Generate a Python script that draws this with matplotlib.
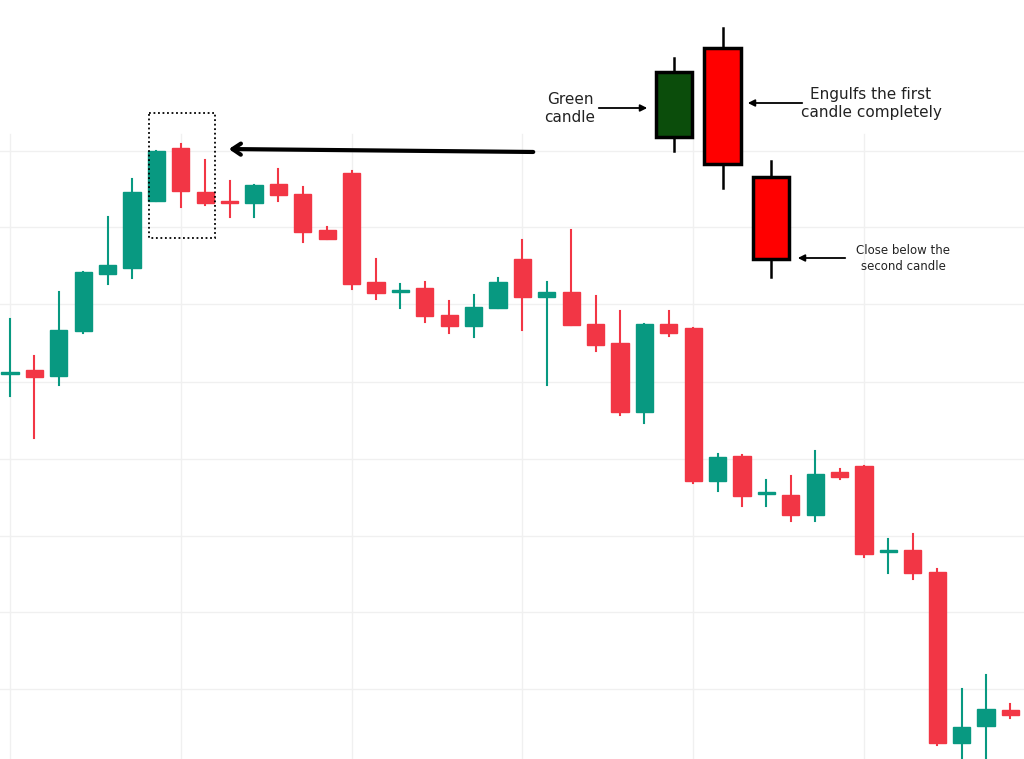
import matplotlib
matplotlib.use("Agg")
import matplotlib.pyplot as plt
from matplotlib.patches import Rectangle, FancyArrowPatch

# price values (arbitrary units)
opens  = [385,389,383,428,485,491,558,611,567,558,556,575,565,529,586,477,467,471,444,433,451,500,462,467,435,416,347,435,431,278,303,265,264,244,287,293,207,209,187,16,33,49,47]
closes = [387,382,429,487,494,567,608,568,556,556,574,564,527,520,475,466,469,443,433,452,477,462,467,434,414,347,435,426,278,302,263,267,244,285,282,205,209,186,16,32,50,44,-10]
highs  = [440,403,467,487,542,580,608,615,599,578,574,590,572,532,588,500,475,477,458,464,481,519,477,529,463,448,435,448,431,305,304,279,283,308,290,293,220,225,190,70,84,55,50]
lows   = [363,321,374,426,475,481,558,552,554,542,542,558,517,520,470,460,451,437,426,422,451,429,374,434,408,344,336,423,276,268,253,253,238,238,280,202,186,180,14,-10,-10,41,-10]

GREEN = "#089981"
RED = "#f23645"

fig = plt.figure(figsize=(10.24, 7.59), dpi=100)
ax = fig.add_axes([0, 0, 1, 1])
ax.set_xlim(-10/24.4, (1024-10)/24.4)
ax.set_ylim(0, 759)
ax.axis("off")

top = 625
for y in [608, 532, 455, 377, 300, 223, 147, 70]:
    ax.plot([-1, 43], [y, y], color="#f0f0f0", lw=1, zorder=0)
for x in [0, 7, 14, 21, 28, 35]:
    ax.plot([x, x], [0, top], color="#f0f0f0", lw=1, zorder=0)

w = 0.7
for i, (o, c, h, l) in enumerate(zip(opens, closes, highs, lows)):
    col = GREEN if c >= o else RED
    ax.plot([i, i], [l, h], color=col, lw=1.5, zorder=2)
    b = max(abs(c - o), 1.5)
    ax.add_patch(Rectangle((i - w/2, min(o, c)), w, b, facecolor=col, edgecolor=col, zorder=3))

# overlay in pixel coordinates
ov = fig.add_axes([0, 0, 1, 1])
ov.set_xlim(0, 1024); ov.set_ylim(759, 0); ov.axis("off")

ov.add_patch(Rectangle((149, 113), 66, 125, fill=False, ls=(0, (1, 1.5)), lw=1.3, ec="black"))
ov.annotate("", xy=(226, 149), xytext=(536, 152),
            arrowprops=dict(arrowstyle="->,head_length=0.6,head_width=0.4", lw=3, color="black"))

def cand(x0, x1, b0, b1, w0, w1, fc):
    xm = (x0 + x1) / 2
    ov.plot([xm, xm], [w0, w1], color="black", lw=1.8, zorder=4)
    ov.add_patch(Rectangle((x0, b0), x1 - x0, b1 - b0, fc=fc, ec="black", lw=2.5, zorder=5))

cand(656, 692, 72, 137, 58, 151, "#0b4d0b")
cand(704, 741, 48, 164, 28, 188, "#ff0000")
cand(753, 789, 177, 259, 161, 277, "#ff0000")

ov.text(570, 108, "Green\ncandle", ha="center", va="center", fontsize=11, linespacing=1.25, color="#222")
ov.annotate("", xy=(650, 108), xytext=(596, 108), arrowprops=dict(arrowstyle="-|>", lw=1.3, color="black"))
ov.text(871, 104, "Engulfs the first\ncandle completely", ha="center", va="center", fontsize=11, linespacing=1.25, color="#222")
ov.annotate("", xy=(745, 103), xytext=(805, 103), arrowprops=dict(arrowstyle="-|>", lw=1.3, color="black"))
ov.text(903, 258, "Close below the\nsecond candle", ha="center", va="center", fontsize=8.5, linespacing=1.3, color="#222")
ov.annotate("", xy=(795, 258), xytext=(848, 258), arrowprops=dict(arrowstyle="-|>", lw=1.3, color="black"))

fig.savefig("out.png", dpi=100)
